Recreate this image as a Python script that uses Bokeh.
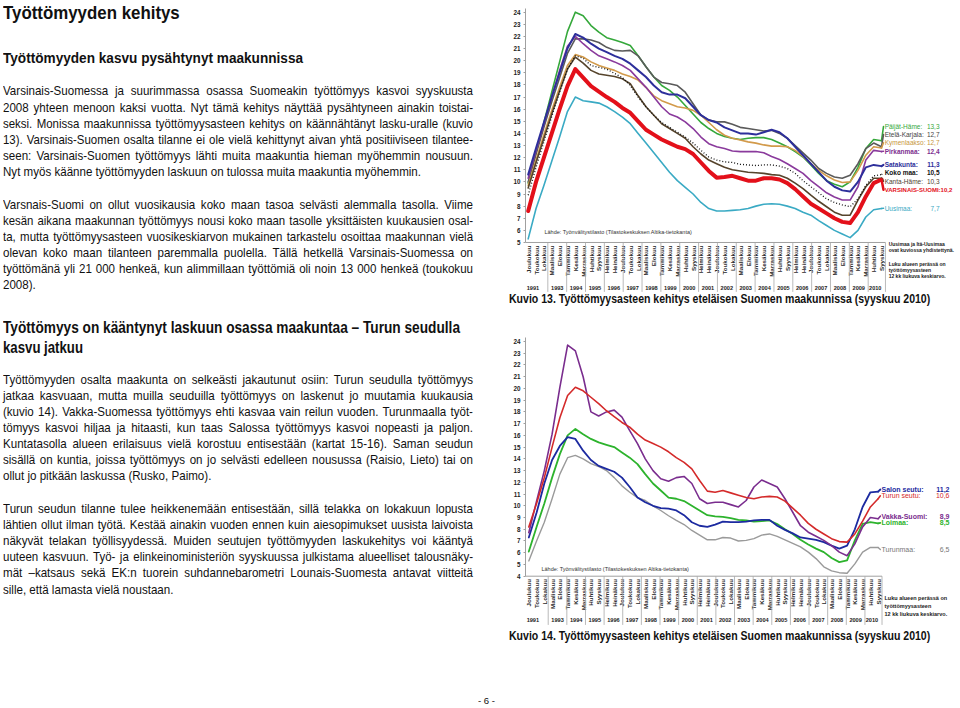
import math
from bokeh.plotting import figure
from bokeh.models import Range1d, FixedTicker, Div
from bokeh.layouts import row, column
from bokeh.core.properties import value
from bokeh.embed import file_html
from bokeh.resources import INLINE

SANS = "Liberation Sans"

# ---------------- data ----------------
months = ["Joulukuu", "Toukokuu", "Lokakuu", "Maaliskuu", "Elokuu", "Tammikuu",
          "Kesäkuu", "Marraskuu", "Huhtikuu", "Syyskuu", "Helmikuu", "Heinäkuu",
          "Joulukuu", "Toukokuu", "Lokakuu", "Maaliskuu", "Elokuu", "Tammikuu",
          "Kesäkuu", "Marraskuu", "Huhtikuu", "Syyskuu", "Helmikuu", "Heinäkuu",
          "Joulukuu", "Toukokuu", "Lokakuu", "Maaliskuu", "Elokuu", "Tammikuu",
          "Kesäkuu", "Marraskuu", "Huhtikuu", "Syyskuu", "Helmikuu", "Heinäkuu",
          "Joulukuu", "Toukokuu", "Lokakuu", "Maaliskuu", "Elokuu", "Tammikuu",
          "Kesäkuu", "Marraskuu", "Huhtikuu", "Syyskuu"]
years = [1991, 1993, 1994, 1995, 1996, 1997, 1998, 1999, 2000, 2001, 2002,
         2003, 2004, 2005, 2006, 2007, 2008, 2009, 2010]

# Kuvio 13 (maakunnat), työttömyysasteen 12 kk liukuva keskiarvo, %
regions13 = ["Päijät-Häme", "Etelä-Karjala", "Kymenlaakso", "Pirkanmaa", "Satakunta",
             "Koko maa", "Kanta-Häme", "VARSINAIS-SUOMI", "Uusimaa"]
latest13 = ["13,3", "12,7", "12,7", "12,4", "11,3", "10,5", "10,3", "10,2", "7,7"]
paijat_hame = [9.9, 12.4, 14.9, 17.4, 19.9, 22.4, 24.0, 23.7, 22.9, 22.35,
               21.9, 21.7, 21.5, 21.25, 20.4, 19.5, 18.65, 17.95, 17.55, 17.0,
               16.3, 15.6, 14.9, 14.4, 14.0, 13.75, 13.6, 13.5, 13.6, 13.65,
               13.65, 13.5, 13.2, 12.9, 12.5, 12.05, 11.4, 10.7, 10.1, 9.8,
               9.6, 10.0, 11.2, 12.75, 13.5, 13.4]
etela_karjala = [10.0, 12.3, 14.5, 16.6, 18.6, 20.6, 21.8, 21.8, 21.7, 21.5,
                 21.1, 20.85, 20.8, 20.85, 20.4, 19.5, 18.65, 18.2, 18.1, 17.95,
                 17.4, 16.45, 15.5, 15.1, 14.95, 14.95, 14.75, 14.5, 14.4, 14.3,
                 14.2, 14.25, 14.0, 13.6, 13.0, 12.4, 11.8, 11.1, 10.7, 10.4,
                 10.3, 10.55, 11.5, 12.75, 13.2, 12.9]
kymenlaakso = [9.7, 11.8, 13.9, 15.9, 17.8, 19.6, 20.5, 20.3, 19.9, 19.6,
               19.4, 19.2, 18.9, 18.7, 18.4, 17.8, 17.1, 16.7, 16.45, 16.2,
               16.1, 15.9, 15.5, 14.9, 14.3, 13.85, 13.6, 13.45, 13.3, 13.2,
               13.05, 12.95, 12.95, 12.9, 12.6, 12.1, 11.5, 10.95, 10.5, 10.15,
               9.95, 10.0, 10.95, 12.2, 12.9, 12.8]
pirkanmaa = [10.3, 12.6, 14.8, 17.0, 19.2, 21.2, 22.0, 21.4, 20.85, 20.4,
             20.15, 19.9, 19.6, 19.2, 18.5, 17.8, 17.0, 16.2, 15.6, 15.35,
             14.95, 14.4, 13.7, 13.15, 12.9, 12.75, 12.55, 12.5, 12.5, 12.5,
             12.4, 12.1, 11.85, 11.5, 11.1, 10.7, 10.1, 9.6, 9.1, 8.75,
             8.5, 8.5, 9.6, 11.8, 12.6, 12.5]
satakunta = [10.6, 12.8, 14.9, 17.0, 19.0, 21.0, 22.2, 21.9, 21.4, 21.0,
             20.7, 20.4, 20.15, 19.75, 19.2, 18.65, 17.95, 17.4, 17.2, 17.2,
             16.9, 16.2, 15.5, 15.1, 14.9, 14.5, 14.25, 14.0, 14.0, 13.9,
             14.1, 14.3, 14.1, 13.6, 12.9, 12.2, 11.5, 10.8, 10.1, 9.6,
             9.3, 9.2, 10.0, 11.2, 11.4, 11.3]
koko_maa = [8.9, 11.2, 13.3, 15.4, 17.4, 19.3, 20.4, 20.2, 19.6, 19.45,
            19.3, 18.95, 18.6, 17.95, 17.0, 16.2, 15.5, 14.9, 14.5, 14.1,
            13.7, 13.2, 12.6, 12.05, 11.8, 11.65, 11.6, 11.45, 11.4, 11.35,
            11.4, 11.4, 11.3, 11.1, 10.7, 10.1, 9.6, 9.1, 8.6, 8.3,
            8.1, 7.95, 8.6, 9.7, 10.5, 10.6]
kanta_hame = [9.5, 11.6, 13.6, 15.6, 17.5, 19.3, 20.3, 19.8, 19.2, 18.9,
              18.8, 18.7, 18.5, 18.1, 17.1, 16.2, 15.5, 14.8, 14.4, 14.0,
              13.6, 12.9, 12.3, 11.8, 11.5, 11.2, 11.0, 10.9, 10.8, 10.75,
              10.7, 10.6, 10.55, 10.3, 9.9, 9.45, 8.9, 8.4, 7.95, 7.5,
              7.25, 7.25, 8.5, 9.6, 10.3, 10.3]
varsinais_suomi = [7.6, 10.0, 12.0, 14.0, 16.0, 17.9, 19.3, 18.6, 17.9, 17.45,
                   17.0, 16.6, 16.1, 15.7, 15.0, 14.3, 13.9, 13.5, 13.2, 12.9,
                   12.7, 12.3, 11.6, 10.9, 10.35, 10.4, 10.5, 10.3, 10.1, 10.1,
                   10.3, 10.3, 10.2, 9.9, 9.4, 8.8, 8.2, 7.8, 7.4, 7.0,
                   6.7, 6.6, 7.5, 8.8, 9.9, 10.2]
uusimaa = [5.3, 7.8, 9.7, 11.7, 13.7, 15.8, 17.0, 16.7, 16.6, 16.5,
           16.2, 15.8, 15.35, 14.8, 14.0, 13.2, 12.4, 11.6, 10.8, 10.1,
           9.55, 9.0, 8.3, 7.8, 7.6, 7.6, 7.65, 7.7, 7.8, 8.0,
           8.15, 8.2, 8.15, 8.0, 7.8, 7.5, 7.25, 6.8, 6.4, 6.0,
           5.7, 5.4, 6.0, 7.1, 7.7, 7.8]

# Kuvio 14 (seutukunnat)
regions14 = ["Salon seutu", "Turun seutu", "Vakka-Suomi", "Loimaa", "Turunmaa"]
latest14 = ["11,2", "10,6", "8,9", "8,5", "6,5"]
salon_seutu = [7.3, 9.4, 11.9, 13.9, 15.1, 15.85, 15.7, 14.7, 13.9, 13.4,
               13.15, 12.9, 12.4, 11.6, 10.7, 10.3, 10.0, 9.8, 9.75, 9.6,
               9.2, 8.6, 8.3, 8.2, 8.4, 8.65, 8.6, 8.6, 8.65, 8.75,
               8.8, 8.8, 8.3, 7.95, 7.65, 7.3, 7.2, 7.1, 6.9, 6.6,
               6.35, 6.6, 8.0, 9.9, 11.15, 11.2]
turun_seutu = [8.2, 10.2, 12.4, 15.0, 17.5, 19.4, 20.1, 19.8, 19.25, 18.7,
               18.1, 17.6, 17.1, 16.7, 16.1, 15.6, 15.3, 15.0, 14.6, 14.1,
               13.7, 13.15, 12.15, 11.25, 11.15, 11.3, 11.1, 10.9, 10.7, 10.6,
               10.75, 10.8, 10.75, 10.4, 9.8, 9.2, 8.5, 8.0, 7.6, 7.2,
               6.95, 6.9, 7.6, 8.7, 9.9, 10.6]
vakka_suomi = [7.7, 10.4, 13.0, 16.1, 20.1, 23.7, 23.2, 21.0, 18.0, 17.65,
               18.0, 18.15, 17.55, 16.4, 15.3, 14.0, 13.0, 12.3, 12.1, 12.4,
               12.5, 11.9, 10.6, 10.2, 10.3, 10.3, 10.1, 9.9, 10.45, 11.6,
               12.2, 11.9, 11.6, 10.6, 9.45, 8.3, 7.75, 7.4, 7.05, 6.6,
               6.05, 5.75, 6.75, 8.2, 9.0, 8.9]
loimaa = [6.1, 8.2, 10.2, 12.4, 14.4, 16.0, 16.55, 16.1, 15.7, 15.4,
          15.2, 15.0, 14.55, 14.1, 13.55, 12.7, 11.9, 11.3, 10.7, 10.6,
          10.4, 10.0, 9.6, 9.2, 9.1, 9.05, 8.95, 8.8, 8.75, 8.65,
          8.7, 8.75, 8.45, 8.0, 7.6, 7.1, 6.7, 6.35, 6.05, 5.55,
          5.2, 5.35, 7.05, 8.45, 8.6, 8.5]
turunmaa = [5.3, 7.0, 8.6, 10.6, 12.7, 14.1, 14.3, 14.0, 13.6, 13.35,
            13.0, 12.4, 11.7, 11.15, 10.7, 10.45, 10.0, 9.6, 9.15, 8.75,
            8.4, 7.9, 7.5, 7.1, 7.1, 7.3, 7.25, 7.0, 7.05, 7.2,
            7.5, 7.6, 7.4, 7.1, 6.8, 6.5, 6.05, 5.5, 4.8, 4.45,
            4.3, 4.25, 5.05, 6.05, 6.45, 6.45]

series13 = [paijat_hame, etela_karjala, kymenlaakso, pirkanmaa, satakunta,
            koko_maa, kanta_hame, varsinais_suomi, uusimaa]
series14 = [salon_seutu, turun_seutu, vakka_suomi, loimaa, turunmaa]
for s in series13 + series14:
    assert len(s) == len(months)

# ---------------- styles ----------------
# color, width, dash, label color, label weight, value inline, label size
style13 = [
    ("#35a83b", 1.6, "solid", "#35a83b", "normal", False, "6.5px"),
    ("#5a5a5a", 1.6, "solid", "#444444", "normal", False, "6.5px"),
    ("#d29a4a", 1.6, "solid", "#c8963c", "normal", False, "6.5px"),
    ("#8a3a9c", 1.6, "solid", "#7d2f8f", "bold", False, "6.5px"),
    ("#2d2f9b", 2.0, "solid", "#2d2f9b", "bold", False, "6.5px"),
    ("#111111", 1.3, "1 2", "#111111", "bold", False, "6.5px"),
    ("#56442c", 1.6, "solid", "#4f4232", "normal", False, "6.5px"),
    ("#e3101a", 4.0, "solid", "#e3101a", "bold", True, "6px"),
    ("#3aaac4", 1.6, "solid", "#3aaac4", "normal", False, "6.5px"),
]
draw_order13 = [0, 1, 2, 3, 4, 6, 5, 8, 7]
style14 = [
    ("#1c2aa0", 1.8, "solid", "#1c2aa0", "bold", False, "7px"),
    ("#d42a2a", 1.6, "solid", "#d42a2a", "normal", False, "7px"),
    ("#7a2d8e", 1.6, "solid", "#7a2d8e", "bold", False, "7px"),
    ("#2db32d", 1.8, "solid", "#2db32d", "bold", False, "7px"),
    ("#9a9a9a", 1.4, "solid", "#777777", "normal", False, "7px"),
]
draw_order14 = [4, 3, 0, 2, 1]

SOURCE = "Lähde: Työnvälitystilasto (Tilastokeskuksen Altika-tietokanta)"

FIG_W = 458
geo13 = dict(h=292, bl=24, top=0, ymin=5,
             x0=526.7, sx=7.87, y0=11.7, sy=12.12,
             month_py=245.0, year_py=287.5, lab_px=884, val_px=939,
             lab_py=[126, 134, 142.3, 150.7, 164.3, 172.3, 180.7, 189.3, 207.7],
             src=(543, 231),
             notes=[("Uusimaa ja Itä-Uusimaa", 243.3), ("ovat kuviossa yhdistettynä.", 249.6),
                    ("Luku alueen perässä on", 263.3), ("työttömyysasteen", 269.5),
                    ("12 kk liukuva keskiarvo.", 275.7)],
             note_px=888, note_size="5px")
geo14 = dict(h=295, bl=25, top=330, ymin=4,
             x0=528.3, sx=7.763, y0=341.0, sy=11.735,
             month_py=578.5, year_py=619.3, lab_px=881, val_px=949,
             lab_py=[489, 495.3, 515.7, 522.3, 549],
             src=(541, 568.7),
             notes=[("Luku alueen perässä on", 597.7), ("työttömyysasteen", 605.3),
                    ("12 kk liukuva keskiarvo.", 613.7)],
             note_px=884, note_size="5.5px")


def build_chart(series, names, latest, styles, order, g):
    left_px = 500 + g["bl"]
    right_px = 500 + FIG_W
    px2x = lambda px: (px - g["x0"]) / g["sx"]
    py2y = lambda py: 24 - (py - g["y0"]) / g["sy"]
    xr = (px2x(left_px), px2x(right_px))
    yr = (py2y(g["top"] + g["h"]), py2y(g["top"]))
    p = figure(width=FIG_W, height=g["h"], x_range=Range1d(*xr), y_range=Range1d(*yr),
               output_backend="svg", toolbar_location=None, min_border_left=g["bl"],
               min_border_right=0, min_border_top=0, min_border_bottom=0)
    p.xaxis.visible = False
    p.grid.visible = False
    p.outline_line_color = None
    p.background_fill_color = "white"
    p.border_fill_color = "white"
    ymin = g["ymin"]
    yax = p.yaxis[0]
    yax.ticker = FixedTicker(ticks=list(range(ymin, 25)))
    yax.bounds = (ymin, 24.3)
    yax.major_label_text_font = SANS
    yax.major_label_text_font_size = "6.3px"
    yax.major_label_text_font_style = "bold"
    yax.major_label_text_color = "#222222"
    yax.axis_line_color = "#a0a0a0"
    yax.major_tick_line_color = "#a0a0a0"
    yax.major_tick_out = 2
    yax.major_tick_in = 0
    yax.minor_tick_line_color = None
    yax.major_label_standoff = 3

    idx = list(range(len(months)))
    last = len(months) - 1
    # x axis base line
    p.segment(x0=[xr[0]], y0=[ymin], x1=[last + 0.5], y1=[ymin],
              line_color="#a0a0a0", line_width=1)
    # month labels
    p.text(x=idx, y=[py2y(g["month_py"])] * len(idx), text=months, angle=math.pi / 2,
           text_align="right", text_baseline="middle", text_font=value(SANS),
           text_font_size="6.2px", text_font_style="bold", text_color="#2a2a2a")
    # year bands
    centers, seps = [], []
    for yv in years:
        s = 12 * (yv - 1992) + 1
        e = s + 11
        if yv > 1992:
            seps.append((s - 0.5) / 5)
        c = (max(s, 0) + min(e, 5 * last)) / 2 / 5
        centers.append(max(c, xr[0] + 0.95))
    seps.append(last + 0.5)
    ybot = yr[0] + 0.05
    p.segment(x0=seps, y0=[ymin] * len(seps), x1=seps, y1=[ybot] * len(seps),
              line_color="#a8a8a8", line_width=0.8)
    p.text(x=centers, y=[py2y(g["year_py"])] * len(centers), text=[str(y) for y in years],
           text_align="center", text_baseline="middle", text_font=value(SANS),
           text_font_size="5.6px", text_font_style="bold", text_color="#222222")
    # series
    for k in order:
        col, w, dash = styles[k][:3]
        cap = "round" if dash == "solid" else "butt"
        p.line(x=idx, y=series[k], line_color=col, line_width=w, line_dash=dash,
               line_join="round", line_cap=cap)
    # leaders + labels
    lx = px2x(g["lab_px"])
    vx = px2x(g["val_px"])
    for k, name in enumerate(names):
        col, w, dash, lcol, weight, inline, size = styles[k]
        ly = py2y(g["lab_py"][k])
        cap = "round" if dash == "solid" else "butt"
        p.line(x=[last, lx - 0.15], y=[series[k][-1], ly], line_color=col,
               line_width=min(w, 2.5), line_dash=dash, line_cap=cap)
        txt = name + ":" + (latest[k] if inline else "")
        p.text(x=[lx], y=[ly], text=[txt], text_align="left", text_baseline="middle",
               text_font=value(SANS), text_font_size=size, text_font_style=weight,
               text_color=lcol)
        if not inline:
            p.text(x=[vx], y=[ly], text=[latest[k]], text_align="right",
                   text_baseline="middle", text_font=value(SANS),
                   text_font_size=size, text_font_style=weight, text_color=lcol)
    # source + notes
    p.text(x=[px2x(g["src"][0])], y=[py2y(g["src"][1])], text=[SOURCE], text_align="left",
           text_baseline="middle", text_font=value(SANS), text_font_size="5.5px",
           text_color="#333333")
    nx = px2x(g["note_px"])
    p.text(x=[nx] * len(g["notes"]), y=[py2y(py) for _, py in g["notes"]],
           text=[t for t, _ in g["notes"]], text_align="left", text_baseline="middle",
           text_font=value(SANS), text_font_size=g["note_size"], text_font_style="bold",
           text_color="#222222")
    return p


fig13 = build_chart(series13, regions13, latest13, style13, draw_order13, geo13)
fig14 = build_chart(series14, regions14, latest14, style14, draw_order14, geo14)

# ---------------- page text (HTML, condensed by scaleX) ----------------
REG_W = {" ": 278, "(": 333, ")": 333, ",": 278, "-": 333, ".": 278, ":": 278, "–": 556,
         "A": 667, "B": 667, "C": 722, "D": 722, "E": 667, "F": 611, "G": 778, "H": 722,
         "I": 278, "J": 500, "K": 667, "L": 556, "M": 833, "N": 722, "O": 778, "P": 667,
         "R": 722, "S": 667, "T": 611, "U": 722, "V": 667, "W": 944, "Y": 667,
         "a": 556, "b": 556, "c": 500, "d": 556, "e": 556, "f": 278, "g": 556, "h": 556,
         "i": 222, "j": 222, "k": 500, "l": 222, "m": 833, "n": 556, "o": 556, "p": 556,
         "r": 333, "s": 500, "t": 278, "u": 556, "v": 500, "w": 722, "y": 500, "z": 500,
         "ä": 556, "ö": 556}
BOLD_W = {" ": 278, "(": 333, ")": 333, ",": 278, "-": 333, ".": 278, ":": 333, "–": 556,
          "K": 722, "T": 611, "S": 667,
          "a": 556, "b": 611, "c": 556, "d": 611, "e": 556, "f": 333, "g": 611, "h": 611,
          "i": 278, "j": 278, "k": 556, "l": 278, "m": 889, "n": 611, "o": 611, "p": 611,
          "r": 389, "s": 556, "t": 333, "u": 611, "v": 556, "y": 556, "z": 500,
          "ä": 556, "ö": 611}


def natural(txt, size, bold):
    tab = BOLD_W if bold else REG_W
    return sum(tab.get(c, 556) for c in txt) * size / 1000.0


BODY_SCALE = 0.89


def line_html(txt, base, size, bold=False, mode="plain", target=470, left=3):
    lh = round(size * 1.25, 2)
    bo = (lh - 1.117 * size) / 2 + 0.905 * size
    top = base - bo
    nat = natural(txt, size, bold)
    if mode == "justify":
        sc = min(BODY_SCALE, 0.98 * target / nat)
        box = target / sc
        align = "text-align:justify;text-align-last:justify;"
    elif mode == "fit":
        sc = target / nat
        box = nat * 1.1 + 10
        align = "text-align:left;white-space:nowrap;"
    else:
        sc = BODY_SCALE
        box = nat * 1.1 + 10
        align = "text-align:left;white-space:nowrap;"
    weight = "bold" if bold else "normal"
    return (f'<div style="position:absolute;left:{left}px;top:{top:.1f}px;width:{box:.1f}px;'
            f'font-size:{size}px;line-height:{lh}px;font-weight:{weight};{align}'
            f'transform:scaleX({sc:.4f});transform-origin:0 0;">{txt}</div>')


p1 = ["Varsinais-Suomessa ja suurimmassa osassa Suomeakin työttömyys kasvoi syyskuusta",
      "2008 yhteen menoon kaksi vuotta. Nyt tämä kehitys näyttää pysähtyneen ainakin toistai-",
      "seksi. Monissa maakunnissa työttömyysasteen kehitys on käännähtänyt lasku-uralle (kuvio",
      "13). Varsinais-Suomen osalta tilanne ei ole vielä kehittynyt aivan yhtä positiiviseen tilantee-",
      "seen: Varsinais-Suomen työttömyys lähti muita maakuntia hieman myöhemmin nousuun.",
      "Nyt myös käänne työttömyyden laskuun on tulossa muita maakuntia myöhemmin."]
p2 = ["Varsnais-Suomi on ollut vuosikausia koko maan tasoa selvästi alemmalla tasolla. Viime",
      "kesän aikana maakunnan työttömyys nousi koko maan tasolle yksittäisten kuukausien osal-",
      "ta, mutta työttömyysasteen vuosikeskiarvon mukainen tarkastelu osoittaa maakunnan vielä",
      "olevan koko maan tilanteen paremmalla puolella. Tällä hetkellä Varsinais-Suomessa on",
      "työttömänä yli 21 000 henkeä, kun alimmillaan työttömiä oli noin 13 000 henkeä (toukokuu",
      "2008)."]
p3 = ["Työttömyyden osalta maakunta on selkeästi jakautunut osiin: Turun seudulla työttömyys",
      "jatkaa kasvuaan, mutta muilla seuduilla työttömyys on laskenut jo muutamia kuukausia",
      "(kuvio 14). Vakka-Suomessa työttömyys ehti kasvaa vain reilun vuoden. Turunmaalla työt-",
      "tömyys kasvoi hiljaa ja hitaasti, kun taas Salossa työttömyys kasvoi nopeasti ja paljon.",
      "Kuntatasolla alueen erilaisuus vielä korostuu entisestään (kartat 15-16). Saman seudun",
      "sisällä on kuntia, joissa työttömyys on jo selvästi edelleen nousussa (Raisio, Lieto) tai on",
      "ollut jo pitkään laskussa (Rusko, Paimo)."]
p4 = ["Turun seudun tilanne tulee heikkenemään entisestään, sillä telakka on lokakuun lopusta",
      "lähtien ollut ilman työtä. Kestää ainakin vuoden ennen kuin aiesopimukset uusista laivoista",
      "näkyvät telakan työllisyydessä. Muiden seutujen työttömyyden laskukehitys voi kääntyä",
      "uuteen kasvuun. Työ- ja elinkeinoministeriön syyskuussa julkistama alueelliset talousnäky-",
      "mät –katsaus sekä EK:n tuorein suhdannebarometri Lounais-Suomesta antavat viitteitä",
      "sille, että lamasta vielä noustaan."]

parts = []
parts.append(line_html("Työttömyyden kehitys", 19.6, 18, bold=True, mode="fit", target=178))
parts.append(line_html("Työttömyyden kasvu pysähtynyt maakunnissa", 63.5, 15, bold=True,
                       mode="fit", target=301))


def para(lines, base0, step):
    for k, t in enumerate(lines):
        mode = "justify" if k < len(lines) - 1 else "plain"
        parts.append(line_html(t, base0 + step * k, 13, mode=mode))


para(p1, 96.0, 16.2)
para(p2, 209.3, 16.05)
parts.append(line_html("Työttömyys on kääntynyt laskuun osassa maakuntaa – Turun seudulla",
                       332.7, 16.5, bold=True, mode="fit", target=459))
parts.append(line_html("kasvu jatkuu", 352.7, 16.5, bold=True, mode="fit", target=80))
para(p3, 384.3, 16.1)
para(p4, 513.6, 16.1)
parts.append(line_html("- 6 -", 704.5, 9, mode="fit", target=17, left=478))

PAGE_H = 706
left_html = ('<div style="position:relative;width:500px;height:706px;'
             "font-family:'Liberation Sans',Arial,sans-serif;color:#111111;\">"
             + "".join(parts) + "</div>")
left_div = Div(text=left_html, width=500, height=PAGE_H, margin=0)


def caption(txt, base, top_page, height):
    inner = line_html(txt, base - top_page, 13, bold=True, mode="fit", target=422, left=9)
    html = (f'<div style="position:relative;width:{FIG_W}px;height:{height}px;'
            "font-family:'Liberation Sans',Arial,sans-serif;color:#111111;\">"
            + inner + "</div>")
    return Div(text=html, width=FIG_W, height=height, margin=0)


cap13 = caption("Kuvio 13. Työttömyysasteen kehitys eteläisen Suomen maakunnissa (syyskuu 2010)",
                304.0, 292, 38)
cap14 = caption("Kuvio 14. Työttömyysasteen kehitys eteläisen Suomen maakunnissa (syyskuu 2010)",
                640.5, 625, PAGE_H - 625)

layout = row(left_div, column(fig13, cap13, fig14, cap14, spacing=0), spacing=0)

open("out.html", "w").write(file_html(layout, INLINE))
